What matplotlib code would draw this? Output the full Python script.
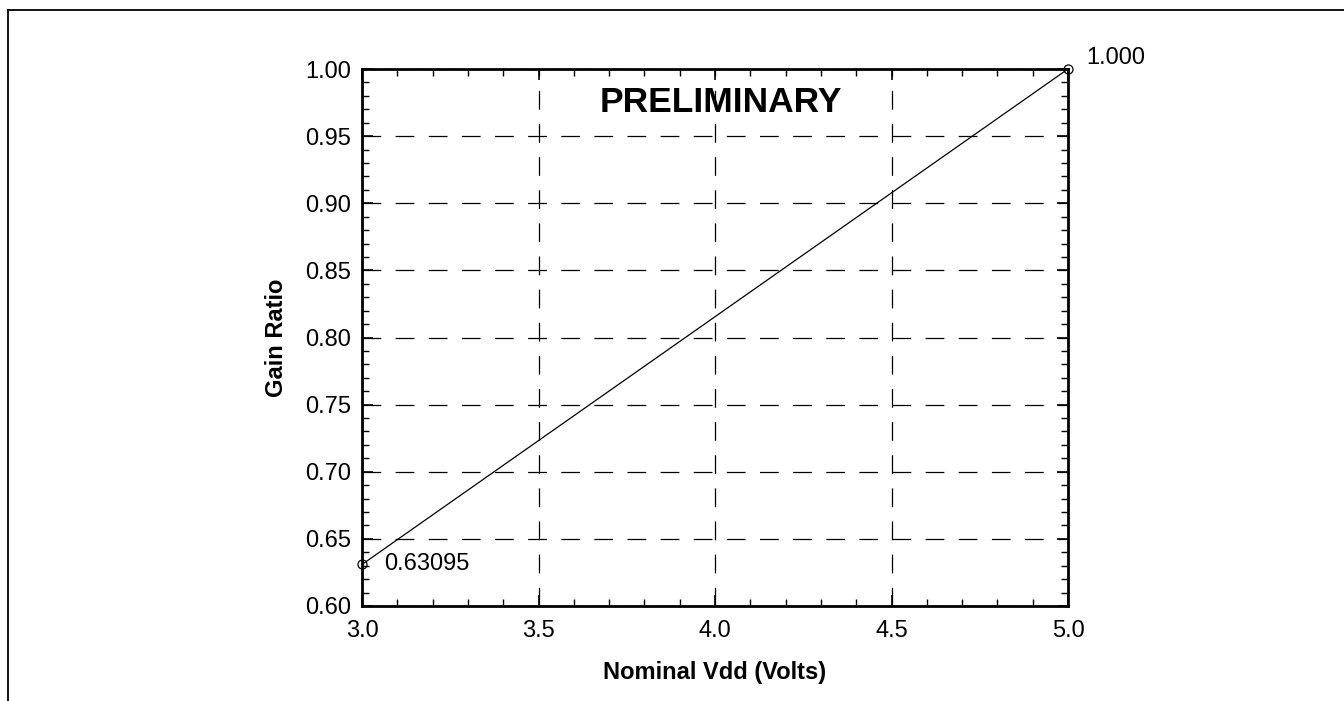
import matplotlib
matplotlib.use("Agg")
import matplotlib.pyplot as plt
from matplotlib.ticker import MultipleLocator, FormatStrFormatter
from matplotlib.lines import Line2D

vdd = [3.0, 5.0]
gain = [0.63095, 1.000]
point_labels = ["0.63095", "1.000"]
title_text = "PRELIMINARY"
x_label = "Nominal Vdd (Volts)"
y_label = "Gain Ratio"

plt.rcParams['font.family'] = ['Liberation Sans', 'DejaVu Sans']

fig = plt.figure(figsize=(13.44, 7.01), dpi=100)
W, H = 1344, 701
ax = fig.add_axes([362 / W, 1 - 606 / H, (1068 - 362) / W, (606 - 69) / H])

ax.plot(vdd, gain, color='black', lw=0.9, marker='o', ms=6.5, mfc='none', mec='black', mew=0.9,
        clip_on=False, zorder=5)

ax.set_xlim(3.0, 5.0)
ax.set_ylim(0.60, 1.00)
ax.xaxis.set_major_locator(MultipleLocator(0.5))
ax.xaxis.set_minor_locator(MultipleLocator(0.1))
ax.yaxis.set_major_locator(MultipleLocator(0.05))
ax.yaxis.set_minor_locator(MultipleLocator(0.01))
ax.xaxis.set_major_formatter(FormatStrFormatter('%.1f'))
ax.yaxis.set_major_formatter(FormatStrFormatter('%.2f'))

ax.tick_params(which='both', direction='in', top=True, right=True, labelsize=17, color='black')
ax.tick_params(which='major', length=8, width=1.2, pad=8)
ax.tick_params(which='minor', length=5, width=1.0)
ax.tick_params(axis='x', which='major', pad=10)

for s in ax.spines.values():
    s.set_linewidth(2.0)

ax.grid(True, which='major', color='black', lw=0.9, linestyle=(0, (15, 11.5)))

ax.set_xlabel(x_label, fontsize=17, fontweight='bold', labelpad=14)
ax.set_ylabel(y_label, fontsize=17, fontweight='bold', labelpad=12)

ax.annotate(point_labels[0], (vdd[0], gain[0]), xytext=(16, 0), textcoords='offset points',
            ha='left', va='center', fontsize=17)
ax.annotate(point_labels[1], (vdd[1], gain[1]), xytext=(13, 8), textcoords='offset points',
            ha='left', va='center', fontsize=17)

ax.text(721 / W, 1 - 102 / H, title_text, transform=fig.transFigure, ha='center', va='center',
        fontsize=25.5, fontweight='bold')

# outer frame (top and left only)
fig.add_artist(Line2D([8 / W, 1.0], [1 - 10 / H, 1 - 10 / H], transform=fig.transFigure,
                      color='black', lw=1.3))
fig.add_artist(Line2D([8 / W, 8 / W], [0.0, 1 - 10 / H], transform=fig.transFigure,
                      color='black', lw=1.3))

fig.savefig("out.png", dpi=100)
